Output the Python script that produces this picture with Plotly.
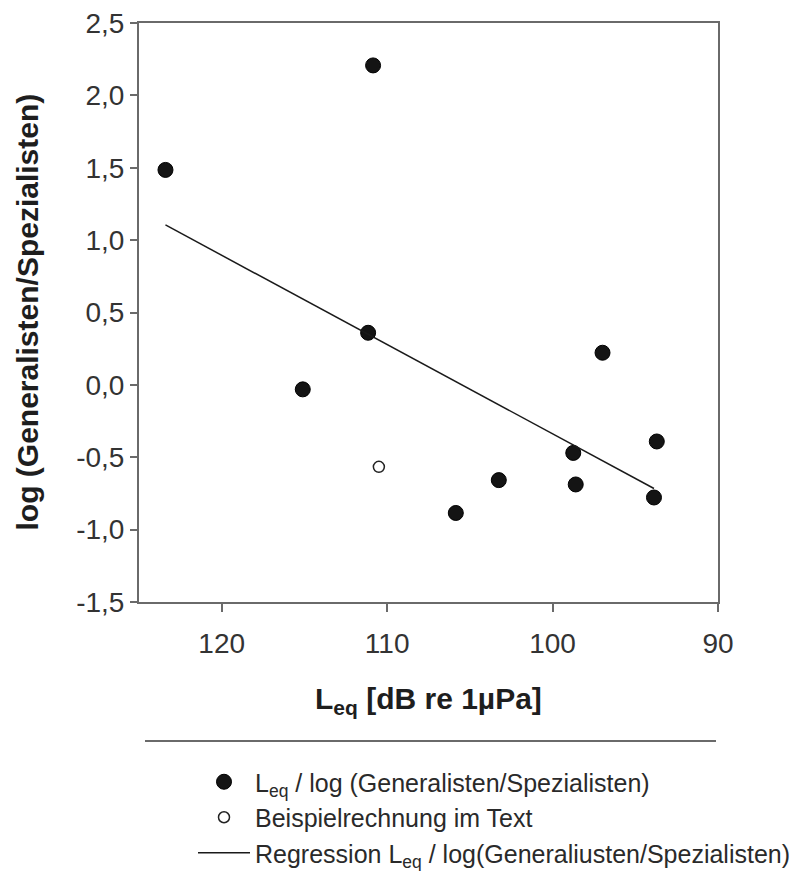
import plotly.graph_objects as go

# Data
leq_filled = [123.4, 110.85, 111.15, 115.1, 96.98, 93.7, 98.75, 98.6, 103.25, 105.85, 93.87]
log_filled = [1.485, 2.207, 0.36, -0.031, 0.222, -0.391, -0.47, -0.688, -0.658, -0.885, -0.778]

leq_example = [110.5]
log_example = [-0.566]

reg_x = [123.4, 93.87]
reg_y = [1.105, -0.716]

y_tickvals = [-1.5, -1.0, -0.5, 0.0, 0.5, 1.0, 1.5, 2.0, 2.5]
y_ticktext = ["-1,5", "-1,0", "-0,5", "0,0", "0,5", "1,0", "1,5", "2,0", "2,5"]
x_tickvals = [120, 110, 100, 90]
x_ticktext = ["120", "110", "100", "90"]

FONT = "Liberation Sans, Arial, sans-serif"

fig = go.Figure()
fig.add_trace(go.Scatter(
    x=leq_filled, y=log_filled, mode="markers",
    name="L<sub>eq</sub> / log (Generalisten/Spezialisten)",
    marker=dict(size=15, color="#141414", line=dict(color="#000000", width=1)),
))
fig.add_trace(go.Scatter(
    x=leq_example, y=log_example, mode="markers",
    name="Beispielrechnung im Text",
    marker=dict(size=11, color="white", line=dict(color="#222222", width=1.5)),
))
fig.add_trace(go.Scatter(
    x=reg_x, y=reg_y, mode="lines",
    name="Regression L<sub>eq</sub> / log(Generaliusten/Spezialisten)",
    line=dict(color="#1a1a1a", width=1.5),
))

fig.update_layout(
    width=804, height=871,
    margin=dict(l=139, r=86, t=23, b=269, autoexpand=False),
    paper_bgcolor="white", plot_bgcolor="white",
    font=dict(family=FONT, color="#222222"),
    showlegend=True,
    legend=dict(
        x=(193 - 139) / 579, y=(602 - 759) / 579,
        xanchor="left", yanchor="top",
        font=dict(family=FONT, size=25, color="#2a2a2a"),
        itemwidth=52, bgcolor="rgba(0,0,0,0)", tracegroupgap=0,
    ),
    xaxis=dict(
        range=[125, 90], tickvals=x_tickvals, ticktext=x_ticktext,
        showgrid=False, zeroline=False,
        showline=True, linecolor="#6a6a6a", linewidth=2, mirror=True,
        ticks="outside", ticklen=8, tickwidth=1.5, tickcolor="#6a6a6a",
        ticklabelstandoff=7,
        tickfont=dict(family=FONT, size=28, color="#333333"),
    ),
    yaxis=dict(
        range=[-1.5, 2.5], tickvals=y_tickvals, ticktext=y_ticktext,
        showgrid=False, zeroline=False,
        showline=True, linecolor="#6a6a6a", linewidth=2, mirror=True,
        ticks="outside", ticklen=7, tickwidth=1.5, tickcolor="#6a6a6a",
        tickfont=dict(family=FONT, size=28, color="#333333"),
    ),
    annotations=[
        dict(text="<b>L<sub>eq</sub> [dB re 1µPa]</b>", xref="paper", yref="paper",
             x=0.5, y=(602 - 700) / 579, xanchor="center", yanchor="middle",
             showarrow=False, font=dict(family=FONT, size=30, color="#1e1e1e")),
        dict(text="<b>log (Generalisten/Spezialisten)</b>", xref="paper", yref="paper",
             x=(27 - 139) / 579, y=0.5, xanchor="center", yanchor="middle",
             textangle=-90, showarrow=False,
             font=dict(family=FONT, size=30, color="#1e1e1e")),
    ],
    shapes=[
        dict(type="line", xref="paper", yref="paper",
             x0=(145 - 139) / 579, x1=(716 - 139) / 579,
             y0=(602 - 741) / 579, y1=(602 - 741) / 579,
             line=dict(color="#6a6a6a", width=2)),
    ],
)

fig.write_html("out.html")
